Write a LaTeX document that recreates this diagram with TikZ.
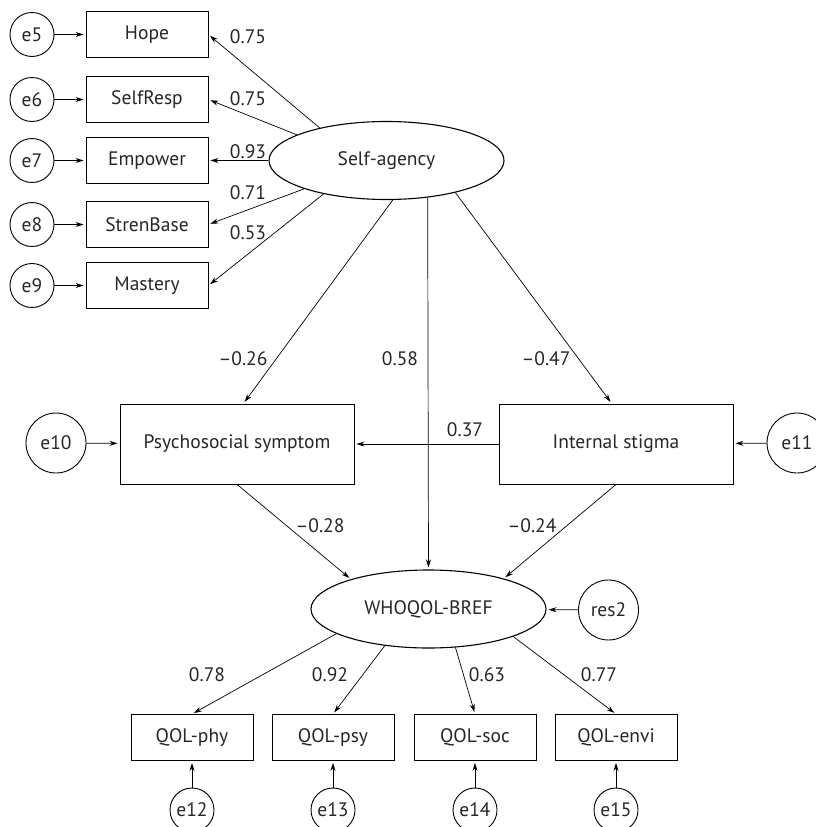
\documentclass[tikz,border=0pt]{standalone}
\usepackage{fontspec}
\setmainfont{PT Sans}
\usetikzlibrary{shapes.geometric,arrows.meta}

\begin{document}
\begin{tikzpicture}[x=1pt,y=-1pt,font=\fontsize{19.5}{22}\selectfont,text=black!85,
  obs/.style={draw,rectangle,line width=0.9pt,minimum width=122pt,minimum height=46pt,inner sep=0pt},
  med/.style={draw,rectangle,line width=0.9pt,minimum width=234pt,minimum height=80pt,inner sep=0pt},
  lat/.style={draw,ellipse,line width=1.1pt,minimum width=235pt,minimum height=78pt,inner sep=0pt},
  err/.style={draw,circle,line width=0.9pt,minimum size=44pt,inner sep=0pt},
  bigerr/.style={draw,circle,line width=0.9pt,minimum size=60pt,inner sep=0pt},
  arr/.style={-{Stealth[length=8pt,width=5pt]},line width=0.7pt,shorten >=2pt},
  coef/.style={inner sep=0pt}]
\useasboundingbox (0,0) rectangle (816,827);
% latent variables
\node[lat] (sa) at (386.5,160.5) {Self-agency};
\node[lat] (wq) at (428.5,609) {WHOQOL-BREF};
% indicators of self-agency
\foreach \name/\txt/\y/\e in {hope/Hope/34.5/5,resp/SelfResp/99.5/6,emp/Empower/160.5/7,stren/StrenBase/224.5/8,mast/Mastery/285.5/9}{
    \node[obs] (\name) at (147,\y) {\txt};
    \node[err] (e\e) at (32,\y) {e\e};
    \draw[arr] (e\e) -- (\name);
}
\draw[arr] (sa.154) -- (hope.east);
\draw[arr] (sa.164) -- (resp.east);
\draw[arr] (sa.west) -- (emp.east);
\draw[arr] (sa.199) -- (stren.east);
\draw[arr] (sa.208) -- (mast.east);
\node[coef] (c5) at (248,37) {0.75};
\node[coef] (c6) at (248,99) {0.75};
\node[coef] (c7) at (248,152) {0.93};
\node[coef] (c8) at (248,193) {0.71};
\node[coef] (c9) at (248,233) {0.53};
% mediators
\node[med] (ps) at (237,444) {Psychosocial symptom};
\node[med] (is) at (616,444) {Internal stigma};
\node[bigerr] (e10) at (56,443) {e10};
\node[bigerr] (e11) at (797,443) {e11};
\draw[arr] (e10) -- (ps);
\draw[arr] (e11) -- (is);
\draw[arr] (sa.279) -- (ps.81);
\draw[arr] (sa.335) -- (is.96);
\draw[arr] (sa.318) -- (wq.north);
\draw[arr] (is.west) -- (ps.east);
\draw[arr] (ps.south) -- (wq.159);
\draw[arr] (is.south) -- (wq.22);
\node[coef] (c26) at (243,359) {–0.26};
\node[coef] (c58) at (400,359) {0.58};
\node[coef] (c47) at (546,359) {–0.47};
\node[coef] (c37) at (465,430) {0.37};
\node[coef] (c28) at (320,526) {–0.28};
\node[coef] (c24) at (532,526) {–0.24};
% residual of WHOQOL
\node[bigerr] (res2) at (608.5,610) {res2};
\draw[arr] (res2) -- (wq);
% indicators of WHOQOL-BREF
\foreach \name/\txt/\x/\e/\a in {phy/QOL-phy/192/12/195,psy/QOL-psy/333/13/220,soc/QOL-soc/475/14/305,envi/QOL-envi/616/15/342}{
    \node[obs] (\name) at (\x,737.5) {\txt};
    \node[err] (e\e) at (\x,810) {e\e};
    \draw[arr] (e\e) -- (\name);
    \draw[arr] (wq.\a) -- (\name.north);
}
\node[coef] (c12) at (207,675) {0.78};
\node[coef] (c13) at (330,675) {0.92};
\node[coef] (c14) at (487,675) {0.63};
\node[coef] (c15) at (599,675) {0.77};
\end{tikzpicture}
\end{document}
